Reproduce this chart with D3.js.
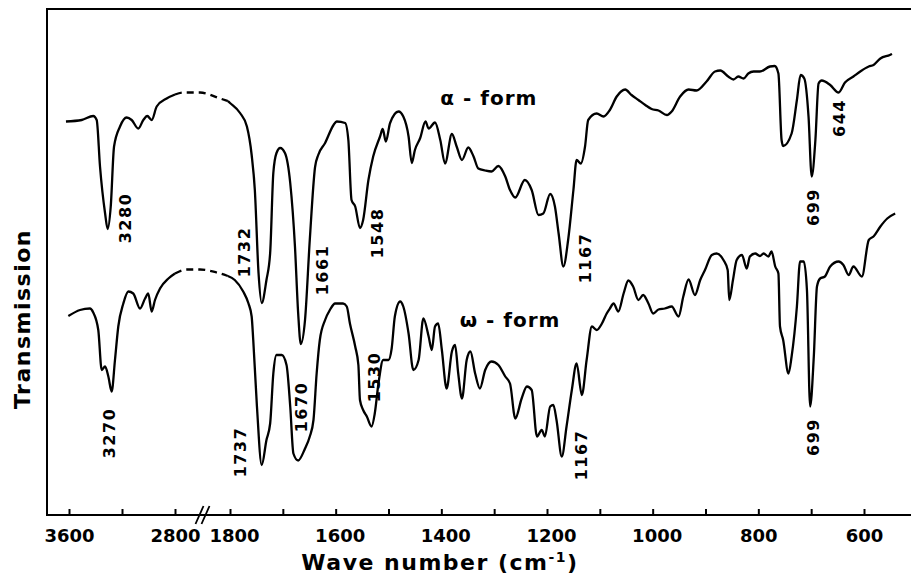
<!DOCTYPE html>
<html>
<head>
<meta charset="utf-8">
<script src="https://cdn.jsdelivr.net/npm/d3@7"></script>
<style>
  body { margin: 0; background: #fff; }
  svg text { font-family: "DejaVu Sans", sans-serif; font-weight: bold; fill: #000; }
</style>
</head>
<body>
<svg id="chart" width="911" height="579"></svg>
<script>
// IR spectra, [wave number (cm-1), transmission]
const alphaHigh = [[3623,78.7],[3504,79],[3417,79.8],[3391,79],[3366,69.7],[3328,60.4],[3308,57.2],[3285,61.7],[3260,73.7],[3215,77.7],[3165,79.5],[3127,79],[3077,77.3],[3039,79],[3009,79.8],[2976,79],[2938,81.7],[2863,83.3],[2800,84.1]];
const alphaBridge = [[2800,84.1],[2655,84.5],[2345,84.5],[1982,83.3],[1840,82.8]];
const alphaLow = [[1840,82.8],[1800,82.4],[1781,80.4],[1768,77.7],[1759,72],[1753,65],[1746,48.4],[1740,42.4],[1731,47],[1724,52.4],[1718,68.4],[1712,72.4],[1705,73.4],[1696,72.4],[1686,66.4],[1677,53.6],[1671,40.4],[1666,34.2],[1658,39],[1649,55],[1639,69.6],[1633,72],[1620,74.4],[1604,78],[1598,78.7],[1582,78.4],[1576,75],[1570,63],[1563,61.7],[1554,57.4],[1548,59],[1538,67],[1529,71.7],[1516,75.7],[1511,77.2],[1505,74.7],[1497,78.4],[1481,80.7],[1472,79.7],[1462,75.7],[1456,70.4],[1450,73],[1440,75.4],[1430,78.7],[1424,77.3],[1412,78.5],[1402,75],[1393,70.3],[1380,76.2],[1371,73.7],[1361,71],[1349,73.5],[1339,71.7],[1330,69.3],[1317,68.9],[1305,68.7],[1292,69.8],[1279,67.7],[1270,65],[1260,63.5],[1242,67],[1229,65],[1216,60],[1207,60.3],[1194,64.2],[1185,61.7],[1178,56.3],[1169,49.7],[1160,55],[1150,65],[1144,71],[1136,70.3],[1128,73.7],[1122,79],[1106,80.3],[1093,79.7],[1081,81],[1068,83.7],[1052,85.1],[1040,84],[1027,83],[1014,82],[1002,81.2],[989,80.9],[973,80],[964,80.7],[948,83.7],[932,85.1],[917,84.9],[898,86.7],[882,88.7],[872,88.9],[857,87.7],[847,87.1],[838,87.7],[828,87.3],[819,88.3],[809,88.7],[797,88.7],[778,89.7],[769,89.8],[762,88.3],[756,75],[753,73.8],[737,76.3],[727,83],[720,88],[713,87.3],[705,79.7],[699,67.7],[692,75],[686,86.3],[680,86.9],[664,86],[648,84.5],[636,86.5],[620,87.7],[607,88.7],[591,89.7],[582,90],[569,91.3],[551,92],[547,92.2]];

const omegaHigh = [[3605,39.8],[3517,41],[3442,41.3],[3417,40.5],[3379,37],[3353,29],[3328,29.7],[3303,27.7],[3278,24.7],[3253,31],[3228,37.7],[3190,42.3],[3152,44.7],[3115,44.3],[3064,41.3],[3026,43.3],[3002,44.3],[2976,40.7],[2951,43],[2913,45.3],[2850,47.3],[2800,48.3]];
const omegaBridge = [[2800,48.3],[2587,49.1],[2345,49.1],[2042,48.5],[1840,47.8]];
const omegaLow = [[1840,47.8],[1791,47],[1775,44.7],[1765,42.3],[1759,39.7],[1756,35],[1749,21.7],[1740,10],[1731,15],[1724,18.3],[1718,28.3],[1712,32],[1702,32],[1693,30],[1686,21.7],[1680,12.3],[1671,10.9],[1658,13.3],[1649,15.7],[1642,19],[1636,28.3],[1630,35],[1620,39],[1611,41],[1601,42.3],[1586,42.3],[1579,41.7],[1573,38.3],[1563,33.7],[1557,30],[1554,23],[1548,21],[1541,19.7],[1532,17.7],[1526,20.3],[1519,26.3],[1510,31],[1500,31],[1494,33.3],[1488,39.7],[1478,42.7],[1472,41.7],[1462,36.3],[1453,29],[1443,31],[1434,39.3],[1424,35.7],[1418,33],[1412,37.7],[1406,38.3],[1399,33],[1390,25.3],[1380,32.7],[1374,34],[1368,28.3],[1361,23.3],[1352,31],[1345,32.7],[1336,28.3],[1327,25.3],[1317,29],[1305,30.7],[1292,30],[1279,27.7],[1270,26.3],[1260,19.3],[1248,23.3],[1238,25.7],[1229,25],[1219,15.7],[1210,17],[1204,15.7],[1194,21.7],[1188,22],[1182,19],[1172,11.7],[1163,17.7],[1153,25],[1144,30.3],[1134,24],[1125,31],[1115,37.7],[1106,37],[1096,38.3],[1087,40.3],[1081,41.3],[1074,42.3],[1065,40.7],[1055,44.3],[1046,46.9],[1037,45.7],[1027,43],[1018,44],[1008,42.3],[999,40.3],[989,41.1],[977,41.3],[964,41.7],[951,39.7],[942,43.7],[932,47.1],[920,44],[910,47],[901,49],[888,52],[879,52.3],[866,51],[858,49],[855,43],[848,47],[841,51],[831,52],[822,49.3],[816,51.7],[806,52.3],[797,51.8],[790,52.3],[781,51.7],[775,52.7],[768,49.7],[762,48.3],[759,37.7],[753,35],[743,28.3],[737,31.7],[727,41.7],[721,50.7],[714,50.7],[708,45],[702,21.7],[695,31.7],[689,45.7],[683,47.3],[674,47.7],[664,49.7],[648,50.7],[639,50],[629,48],[620,49.7],[604,47.7],[591,55],[582,55.7],[569,57.7],[556,59.3],[541,60.3]];

// peak labels (text, wave number, transmission at label centre)
const peakText = ['3280','3270','1732','1661','1548','1737','1670','1530','1167','1167','699','644','699'];
const peakW = [3177,3291,1772,1625,1520,1781,1664,1526,1128,1134,696,646,696];
const peakT = [59.4,16.4,52.6,49,56.4,12.6,21.6,27.6,51.4,12,61.6,79.4,15.6];

const formText = ['α - form', 'ω - form'];
const formW = [1310, 1270];
const formT = [82, 37.6];

const tickValues = [3600,3200,2800,1800,1700,1600,1500,1400,1300,1200,1100,1000,900,800,700,600];
const tickLabels = [3600,2800,1800,1600,1400,1200,1000,800,600];

const svg = d3.select('#chart');
const frame = {left: 47, top: 9, right: 911, bottom: 515};

// broken axis: 3600-2800 compressed, gap, 1800-600
const x = d3.scaleLinear().domain([3600, 2800, 1800, 600]).range([69, 175, 230, 864]);
const y = d3.scaleLinear().domain([0, 100]).range([515, 15]);

const line = d3.line()
    .x(d => x(d[0]))
    .y(d => y(d[1]))
    .curve(d3.curveMonotoneX);

// frame (no right edge)
svg.append('path')
    .attr('d', `M${frame.right},${frame.top}H${frame.left}V${frame.bottom}H${frame.right}`)
    .attr('fill', 'none')
    .attr('stroke', '#000')
    .attr('stroke-width', 2);

// x axis ticks and labels
const xAxis = d3.axisBottom(x)
    .tickValues(tickValues)
    .tickSize(-6)
    .tickPadding(14)
    .tickFormat(d => tickLabels.includes(d) ? d : '');

const gx = svg.append('g')
    .attr('transform', `translate(0,${frame.bottom})`)
    .call(xAxis);
gx.select('.domain').remove();
gx.selectAll('.tick line').attr('stroke', '#000').attr('stroke-width', 2);
gx.selectAll('.tick text')
    .attr('font-size', 18)
    .attr('font-family', '"DejaVu Sans", sans-serif')
    .attr('font-weight', 'bold')
    .attr('dx', d => String(d)[0] === '1' && d >= 1000 ? 4 : 0);

// axis break mark
const bx = x(2300);
[-3, 3].forEach(off => {
    svg.append('line')
        .attr('x1', bx + off - 4).attr('y1', frame.bottom + 9)
        .attr('x2', bx + off + 4).attr('y2', frame.bottom - 9)
        .attr('stroke', '#000')
        .attr('stroke-width', 1.8);
});

// spectra
const solid = [alphaHigh, alphaLow, omegaHigh, omegaLow];
const dashed = [alphaBridge, omegaBridge];

svg.selectAll('path.solid')
    .data(solid)
    .enter()
    .append('path')
    .attr('class', 'solid')
    .attr('d', line)
    .attr('fill', 'none')
    .attr('stroke', '#000')
    .attr('stroke-width', 2.3)
    .attr('stroke-linejoin', 'round');

svg.selectAll('path.dashed')
    .data(dashed)
    .enter()
    .append('path')
    .attr('class', 'dashed')
    .attr('d', line)
    .attr('fill', 'none')
    .attr('stroke', '#000')
    .attr('stroke-width', 2.3)
    .attr('stroke-dasharray', '7,5');

// peak labels, rotated
svg.selectAll('text.peak')
    .data(peakText)
    .enter()
    .append('text')
    .attr('class', 'peak')
    .attr('transform', (d, i) => `translate(${x(peakW[i])},${y(peakT[i])}) rotate(-90)`)
    .attr('text-anchor', 'middle')
    .attr('dominant-baseline', 'central')
    .attr('font-size', 16)
    .attr('letter-spacing', 1.5)
    .text(d => d);

// form labels
svg.selectAll('text.form')
    .data(formText)
    .enter()
    .append('text')
    .attr('class', 'form')
    .attr('x', (d, i) => x(formW[i]))
    .attr('y', (d, i) => y(formT[i]))
    .attr('text-anchor', 'middle')
    .attr('font-size', 20)
    .attr('letter-spacing', 1)
    .text(d => d);

// axis titles
const xt = svg.append('text')
    .attr('x', 440)
    .attr('y', 570)
    .attr('text-anchor', 'middle')
    .attr('font-size', 22)
    .attr('letter-spacing', 1.5);
xt.append('tspan').text('Wave number (cm');
xt.append('tspan').attr('font-size', 14).attr('dy', -8).text('-1');
xt.append('tspan').attr('dy', 8).text(')');

svg.append('text')
    .attr('transform', 'translate(30,319) rotate(-90)')
    .attr('text-anchor', 'middle')
    .attr('font-size', 22)
    .attr('letter-spacing', 1.5)
    .text('Transmission');
</script>
</body>
</html>
